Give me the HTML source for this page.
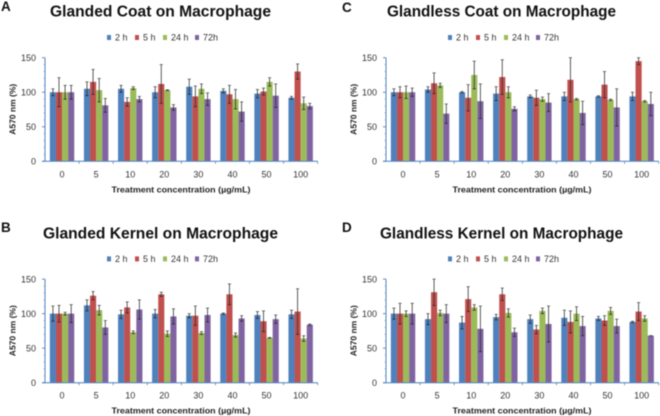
<!DOCTYPE html>
<html lang="en">
<head>
<meta charset="utf-8">
<title>Macrophage viability charts</title>
<style>
html,body{margin:0;padding:0;background:#fff;width:660px;height:416px;overflow:hidden}
#figure{display:block;filter:blur(0.45px)}
text{font-family:"Liberation Sans",sans-serif}
</style>
</head>
<body>
<svg id="figure" width="660" height="416" viewBox="0 0 660 416" xmlns="http://www.w3.org/2000/svg"></svg>
<script>
const categories = ['0','5','10','20','30','40','50','100'];
const seriesNames = ['2 h','5 h','24 h','72h'];
const yTicks = [0,50,100,150];
const yMinorTicks = [10,20,30,40,60,70,80,90,110,120,130,140];

const a2h  = [100,105,105,100,108,102,98,92];
const a5h  = [100,115,86,112,94,97,101,130];
const a24h = [100,103,106,103,105,90,115,84];
const a72h = [100,81,90,78,90,72,95,80];
const a2hErr  = [5,10,5,8,11,3,6,2];
const a5hErr  = [21,18,6,28,15,13,5,11];
const a24hErr = [10,17,2,0.5,7,14,6,9];
const a72hErr = [10,10,4,4,9,14,17,4];

const b2h  = [100,112,99,100,97,100,98,99];
const b5h  = [100,126,109,128,97,128,89,103];
const b24h = [100,105,73,71,72,69,65,64];
const b72h = [100,80,106,96,98,93,92,84];
const b2hErr  = [11,8,6,6,3,1,5,6];
const b5hErr  = [12,6,8,3,14,15,15,33];
const b24hErr = [2,7,2,4,2,3,0.5,4];
const b72hErr = [13,10,14,11,10,4,6,1];

const c2h  = [100,104,100,98,94,94,94,94];
const c5h  = [100,113,92,122,92,118,111,145];
const c24h = [100,110,125,100,90,90,89,87];
const c72h = [100,69,87,76,85,70,78,83];
const c2hErr  = [5,4,1,10,2,6,1,6];
const c5hErr  = [8,15,19,25,11,32,19,5];
const c24hErr = [9,3,20,8,3,1,1,1];
const c72hErr = [6,14,25,3,13,17,27,17];

const d2h  = [100,92,87,95,92,94,93,88];
const d5h  = [100,131,121,128,77,88,90,103];
const d24h = [100,101,109,101,104,100,104,93];
const d72h = [100,100,78,73,85,82,82,68];
const d2hErr  = [8,8,9,4,6,11,3,1];
const d5hErr  = [15,19,18,9,6,16,7,13];
const d24hErr = [4,4,4,6,4,10,5,4];
const d72hErr = [15,13,33,6,26,14,10,0];

const colors = ['#4f81bd','#c0504d','#9bbb59','#8064a2'];
const yMax = 150;
const plotW = 272.7;
const plotH = 103.6;

const svg = document.getElementById('figure');
const NS = 'http://www.w3.org/2000/svg';

function make(tag, attrs, parent, content) {
  const el = document.createElementNS(NS, tag);
  for (const k in attrs) el.setAttribute(k, attrs[k]);
  if (content !== undefined) el.textContent = content;
  parent.appendChild(el);
  return el;
}

function drawPanel(letter, title, ox, oy, titleX, titleW, titleBase, letterX, letterBase, values, errors) {
  const xScale = function (i) { return ox + plotW * i / categories.length; };
  const yScale = function (v) { return oy - plotH * v / yMax; };

  const g = make('g', {}, svg);
  
  

  const letterEl = make('text', {x: letterX, y: letterBase, 'font-size': 13.5, 'font-weight': 'bold', fill: '#111'}, g, letter);
  
  

  const titleEl = make('text', {x: titleX, y: titleBase, 'font-size': 16, 'font-weight': 'bold', fill: '#111', textLength: titleW, lengthAdjust: 'spacingAndGlyphs'}, g, title);
  
  

  // legend
  const swatchOffsets = [62, 90, 118, 150];
  seriesNames.forEach(function (name, s) {
    const sw = make('rect', {x: ox + swatchOffsets[s], y: oy - 126.3, width: 4, height: 5, fill: colors[s]}, g);
    
    
    const lt = make('text', {x: ox + swatchOffsets[s] + 8, y: oy - 120.8, 'font-size': 9, fill: '#333'}, g, name);
    
    
  });

  // bars
  const barW = 6.1;
  const groupW = barW * 4;
  categories.forEach(function (cat, i) {
    const cx = xScale(i) + plotW / categories.length / 2;
    values.forEach(function (series, s) {
      const bx = cx - groupW / 2 + s * barW;
      const bar = make('rect', {x: bx, y: yScale(series[i]), width: barW, height: oy - yScale(series[i]), fill: colors[s]}, g);
      
      
    });
  });

  // error bars
  categories.forEach(function (cat, i) {
    const cx = xScale(i) + plotW / categories.length / 2;
    values.forEach(function (series, s) {
      const mx = cx - groupW / 2 + (s + 0.5) * barW;
      const v = series[i];
      const e = errors[s][i];
      const top = yScale(Math.min(v + e, yMax));
      const bot = yScale(v - e);
      const stem = make('line', {x1: mx, x2: mx, y1: top, y2: bot, stroke: '#333', 'stroke-width': 0.8}, g);
      
      
      const cap1 = make('line', {x1: mx - 1.6, x2: mx + 1.6, y1: top, y2: top, stroke: '#444', 'stroke-width': 0.7}, g);
      
      
      const cap2 = make('line', {x1: mx - 1.6, x2: mx + 1.6, y1: bot, y2: bot, stroke: '#222', 'stroke-width': 0.7}, g);
      
      
    });
  });

  // axes
  const yAxis = make('line', {x1: ox, x2: ox, y1: yScale(yMax), y2: oy, stroke: '#4f81bd', 'stroke-width': 1}, g);
  
  
  const xAxis = make('line', {x1: ox - 3, x2: ox + plotW, y1: oy, y2: oy, stroke: '#4f81bd', 'stroke-width': 1}, g);
  
  

  yMinorTicks.forEach(function (t) {
    const tick = make('line', {x1: ox - 1.5, x2: ox, y1: yScale(t), y2: yScale(t), stroke: '#7f9fc6', 'stroke-width': 0.7}, g);
    
    
  });
  yTicks.forEach(function (t) {
    const tick = make('line', {x1: ox - 3, x2: ox, y1: yScale(t), y2: yScale(t), stroke: '#4f81bd', 'stroke-width': 0.9}, g);
    
    
    const label = make('text', {x: ox - 9, y: yScale(t) + 3.2, 'font-size': 9, fill: '#333', 'text-anchor': 'end'}, g, String(t));
    
    
  });
  categories.forEach(function (cat, i) {
    const tick = make('line', {x1: xScale(i + 1), x2: xScale(i + 1), y1: oy, y2: oy + 2.5, stroke: '#4f81bd', 'stroke-width': 0.8}, g);
    
    
    const label = make('text', {x: xScale(i) + plotW / categories.length / 2, y: oy + 16, 'font-size': 9, fill: '#333', 'text-anchor': 'middle'}, g, cat);
    
    
  });

  const xTitle = make('text', {x: ox + 136, y: oy + 31, 'font-size': 8.5, 'font-weight': 'bold', fill: '#222', 'text-anchor': 'middle', textLength: 139, lengthAdjust: 'spacingAndGlyphs'}, g, 'Treatment concentration (µg/mL)');
  
  

  const yx = ox - 29.5;
  const yy = oy - 52;
  const yTitle = make('text', {x: yx, y: yy, 'font-size': 8.5, 'font-weight': 'bold', fill: '#222', 'text-anchor': 'middle', transform: 'rotate(-90 ' + yx + ' ' + yy + ')'}, g, 'A570 nm (%)');
  
  
}

drawPanel('A', 'Glanded Coat on Macrophage', 45, 161.3, 50, 221, 16.3, 1, 11, [a2h,a5h,a24h,a72h], [a2hErr,a5hErr,a24hErr,a72hErr]);
drawPanel('C', 'Glandless Coat on Macrophage', 386, 161.3, 387, 229, 16.3, 342, 12, [c2h,c5h,c24h,c72h], [c2hErr,c5hErr,c24hErr,c72hErr]);
drawPanel('B', 'Glanded Kernel on Macrophage', 45, 382.7, 43, 235, 238.3, 1, 232, [b2h,b5h,b24h,b72h], [b2hErr,b5hErr,b24hErr,b72hErr]);
drawPanel('D', 'Glandless Kernel on Macrophage', 386, 382.7, 380, 243, 238.3, 342, 232, [d2h,d5h,d24h,d72h], [d2hErr,d5hErr,d24hErr,d72hErr]);
</script>
</body>
</html>
